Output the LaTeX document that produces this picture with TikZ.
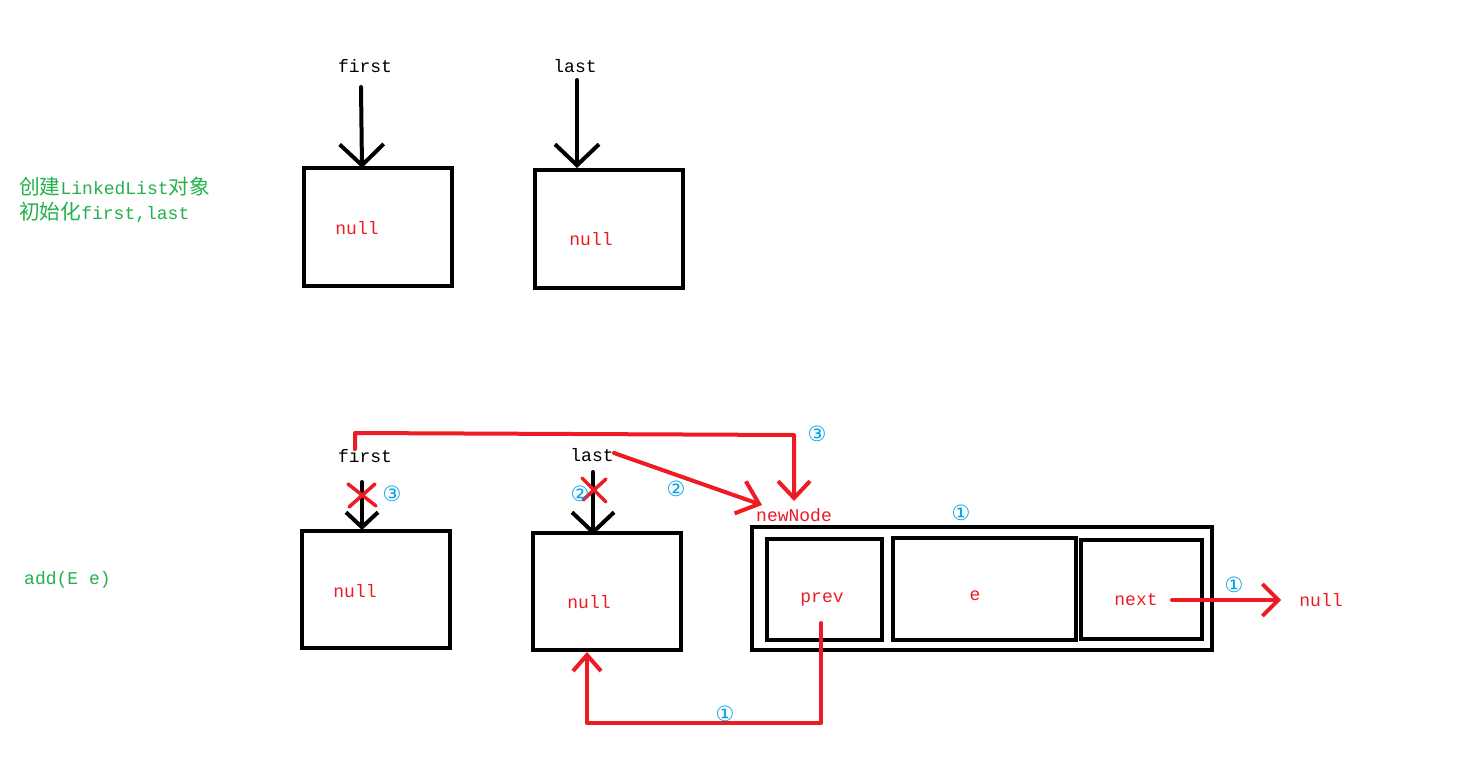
\documentclass[tikz,border=0pt]{standalone}
\usepackage{fontspec}
\setmainfont{Liberation Mono}
\newfontfamily\cjk{Noto Sans CJK SC}[Scale=1.15]
\newfontfamily\circfont{DejaVu Sans}
\usetikzlibrary{arrows.meta}
\definecolor{pred}{HTML}{ED1C24}
\definecolor{pblue}{HTML}{00A2E8}
\definecolor{pgreen}{HTML}{22B14C}
\begin{document}
\begin{tikzpicture}[x=1pt,y=-1pt,
  lbl/.style={font=\fontsize{18}{20}\selectfont, inner sep=0pt},
  redtxt/.style={lbl, text=pred},
  greentxt/.style={lbl, text=pgreen, anchor=west},
  box/.style={draw, line width=4pt, inner sep=0pt},
  num/.style={font=\circfont\fontsize{21}{23}\selectfont, text=pblue, inner sep=0pt},
  blk/.style={line width=4pt, line cap=round, line join=round},
  rd/.style={blk, draw=pred},
  bigtip/.style={-{Straight Barb[length=21pt,width=44pt]}},
  smalltip/.style={-{Straight Barb[length=15pt,width=32pt]}}]
\fill[white] (0,0) rectangle (1458,760);
\useasboundingbox (0,0) rectangle (1458,760);

% ---------- top part ----------
\node[greentxt] (g1) at (19,187) {{\cjk 创建}LinkedList{\cjk 对象}};
\node[greentxt] (g2) at (19,212) {{\cjk 初始化}first,last};

\node[lbl] (f1) at (365,66) {first};
\node[lbl] (l1) at (575,66) {last};
\node[box, minimum width=148pt, minimum height=118pt] (b1) at (378,227) {};
\node[box, minimum width=148pt, minimum height=118pt] (b2) at (609,229) {};
\node[redtxt] (n1) at (357,228) {null};
\node[redtxt] (n2) at (591,239) {null};
\coordinate (t1) at (362,168);
\coordinate (t2) at (577,168);
\coordinate (s1) at (361,87);
\coordinate (s2) at (577,80);
\draw[blk, bigtip] (s1) -- (t1);
\draw[blk, bigtip] (s2) -- (t2);

% ---------- bottom part ----------
\node[greentxt] (g3) at (24,580) {add(E e)};

\node[lbl] (f2) at (365,456) {first};
\node[lbl] (l2) at (592,455) {last};
\node[box, minimum width=148pt, minimum height=117pt] (b3) at (376,589.5) {};
\node[box, minimum width=148pt, minimum height=117pt] (b4) at (607,591.5) {};
\node[redtxt] (n3) at (355,591) {null};
\node[redtxt] (n4) at (589,602) {null};

\node[box, minimum width=460pt, minimum height=123pt] (outer) at (982,588.5) {};
\node[box, minimum width=115pt, minimum height=101pt] (prevbox) at (824.5,589.5) {};
\node[box, minimum width=183pt, minimum height=102pt] (ebox) at (984.5,589) {};
\node[box, minimum width=121pt, minimum height=99pt] (nextbox) at (1141.5,589.5) {};
\node[redtxt] (prevt) at (822,600) {prev};
\node[redtxt] (et) at (975,596) {e};
\node[redtxt] (nextt) at (1136,600) {next};
\node[redtxt] (nn) at (794,515) {newNode};
\node[redtxt] (n5) at (1321,600) {null};

% black pointers (crossed out)
\coordinate (t3) at (362,530);
\coordinate (s3) at (362,482);
\coordinate (t4) at (593,535);
\coordinate (s4) at (593,472);
\draw[blk, smalltip] (s3) -- (t3);
\draw[blk, -{Straight Barb[length=20pt,width=42pt]}] (s4) -- (t4);

% red crosses
\draw[rd, line width=3.5pt] (348,484) -- (376,506) (375,484) -- (349,507);
\draw[rd, line width=3.5pt] (582,478) -- (606,502) (606,479) -- (583,500);

% step 3: first -> newNode
\coordinate (p3a) at (355,449);
\coordinate (p3tip) at (794,501);
\draw[rd, -{Straight Barb[length=17pt,width=32pt]}] (p3a) -- (355,433) -- (794,435) -- (p3tip);

% step 2: last -> newNode
\coordinate (p2a) at (614,453);
\coordinate (p2tip) at (762,505);
\draw[rd, -{Straight Barb[length=20pt,width=34pt]}] (p2a) -- (p2tip);

% step 1: prev -> old last node
\coordinate (p1a) at (821,623);
\draw[rd, -{Straight Barb[length=16pt,width=28pt]}] (p1a) -- (821,723) -- (587,723) -- (b4.south -| 587,0);

% step 1: next -> null
\coordinate (nxa) at (1172,600);
\draw[rd, -{Straight Barb[length=16pt,width=32pt]}] (nxa) -- ([xshift=-18pt]n5.west);

% circled step numbers
\node[num] (c1) at (392,494) {③};
\node[num] (c2) at (580,494) {②};
\node[num] (c3) at (676,489) {②};
\node[num] (c4) at (817,434) {③};
\node[num] (c5) at (961,513) {①};
\node[num] (c6) at (1234,585) {①};
\node[num] (c7) at (725,714) {①};
\end{tikzpicture}
\end{document}
